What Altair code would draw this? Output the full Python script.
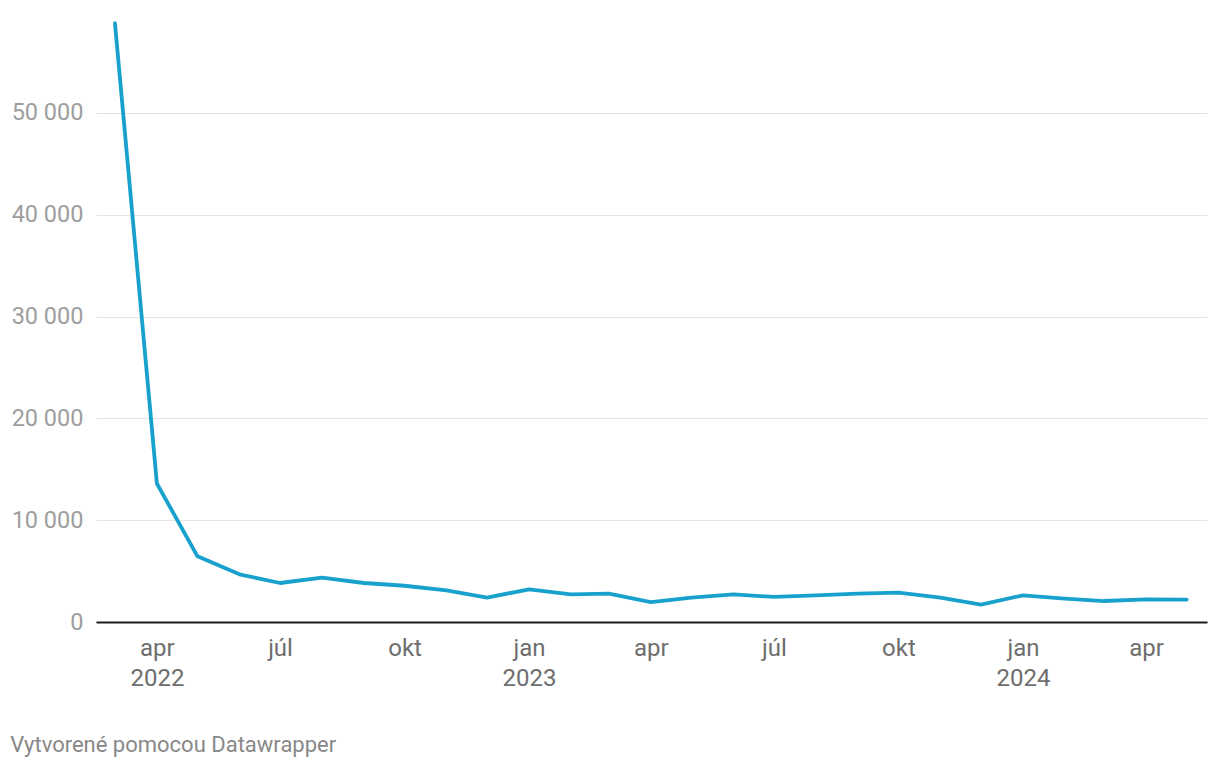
import altair as alt
import pandas as pd

months = [
    "2022-03-01", "2022-04-01", "2022-05-01", "2022-06-01", "2022-07-01",
    "2022-08-01", "2022-09-01", "2022-10-01", "2022-11-01", "2022-12-01",
    "2023-01-01", "2023-02-01", "2023-03-01", "2023-04-01", "2023-05-01",
    "2023-06-01", "2023-07-01", "2023-08-01", "2023-09-01", "2023-10-01",
    "2023-11-01", "2023-12-01", "2024-01-01", "2024-02-01", "2024-03-01",
    "2024-04-01", "2024-05-01",
]
values = [
    58800, 13600, 6450, 4680, 3830,
    4360, 3830, 3560, 3110, 2400,
    3210, 2720, 2790, 1960, 2400,
    2720, 2460, 2620, 2790, 2890,
    2400, 1710, 2620, 2300, 2060,
    2230, 2200,
]
tick_dates = [
    (2022, 4), (2022, 7), (2022, 10),
    (2023, 1), (2023, 4), (2023, 7), (2023, 10),
    (2024, 1), (2024, 4),
]
y_ticks = [0, 10000, 20000, 30000, 40000, 50000]
footer = "Vytvorené pomocou Datawrapper"

df = pd.DataFrame({"date": months, "value": values})

M = "utcmonth(datum.value)"
mon = f"({M}==0?'jan':{M}==3?'apr':{M}==6?'júl':'okt')"
x_label_expr = (
    f"({M}==0 || (utcyear(datum.value)==2022 && {M}==3)) ? "
    f"[{mon}, ''+utcyear(datum.value)] : {mon}"
)

x = alt.X(
    "date:T",
    scale=alt.Scale(
        type="utc",
        domain=[
            alt.DateTime(year=2022, month=2, date=15, utc=True),
            alt.DateTime(year=2024, month=5, date=16, utc=True),
        ],
    ),
    axis=alt.Axis(
        title=None,
        values=[alt.DateTime(year=yy, month=mm, date=1, utc=True) for yy, mm in tick_dates],
        labelExpr=x_label_expr,
        grid=False,
        ticks=False,
        domain=True,
        domainColor="#1d1d1d",
        domainWidth=2,
        labelFont="Roboto",
        labelFontSize=24,
        labelColor="#6e6e6e",
        labelPadding=14,
        labelLineHeight=30,
        labelAlign="center",
        labelFlush=False,
        labelOverlap=False,
    ),
)

y = alt.Y(
    "value:Q",
    scale=alt.Scale(domain=[0, 60000], nice=False),
    axis=alt.Axis(
        title=None,
        values=y_ticks,
        labelExpr="replace(format(datum.value, ','), ',', ' ')",
        grid=True,
        gridColor="#e3e3e3",
        gridWidth=1,
        ticks=False,
        domain=False,
        labelFont="Roboto",
        labelFontSize=23.5,
        labelColor="#9e9e9e",
        labelPadding=13,
    ),
)

chart = (
    alt.Chart(df)
    .mark_line(color="#18a1cd", strokeWidth=3.8, strokeJoin="round", strokeCap="round")
    .encode(x=x, y=y)
    .properties(
        width=1111,
        height=611,
        autosize=alt.AutoSizeParams(type="none"),
        padding={"left": 88, "top": 3, "right": 5, "bottom": 138},
        title=alt.TitleParams(
            footer,
            orient="bottom",
            anchor="start",
            frame="bounds",
            font="Roboto",
            fontSize=22,
            fontWeight="normal",
            color="#888888",
            dx=-1,
            offset=45,
        ),
    )
    .configure_view(stroke=None)
)

chart.save("out.html", embed_options={"renderer": "svg", "actions": False})
